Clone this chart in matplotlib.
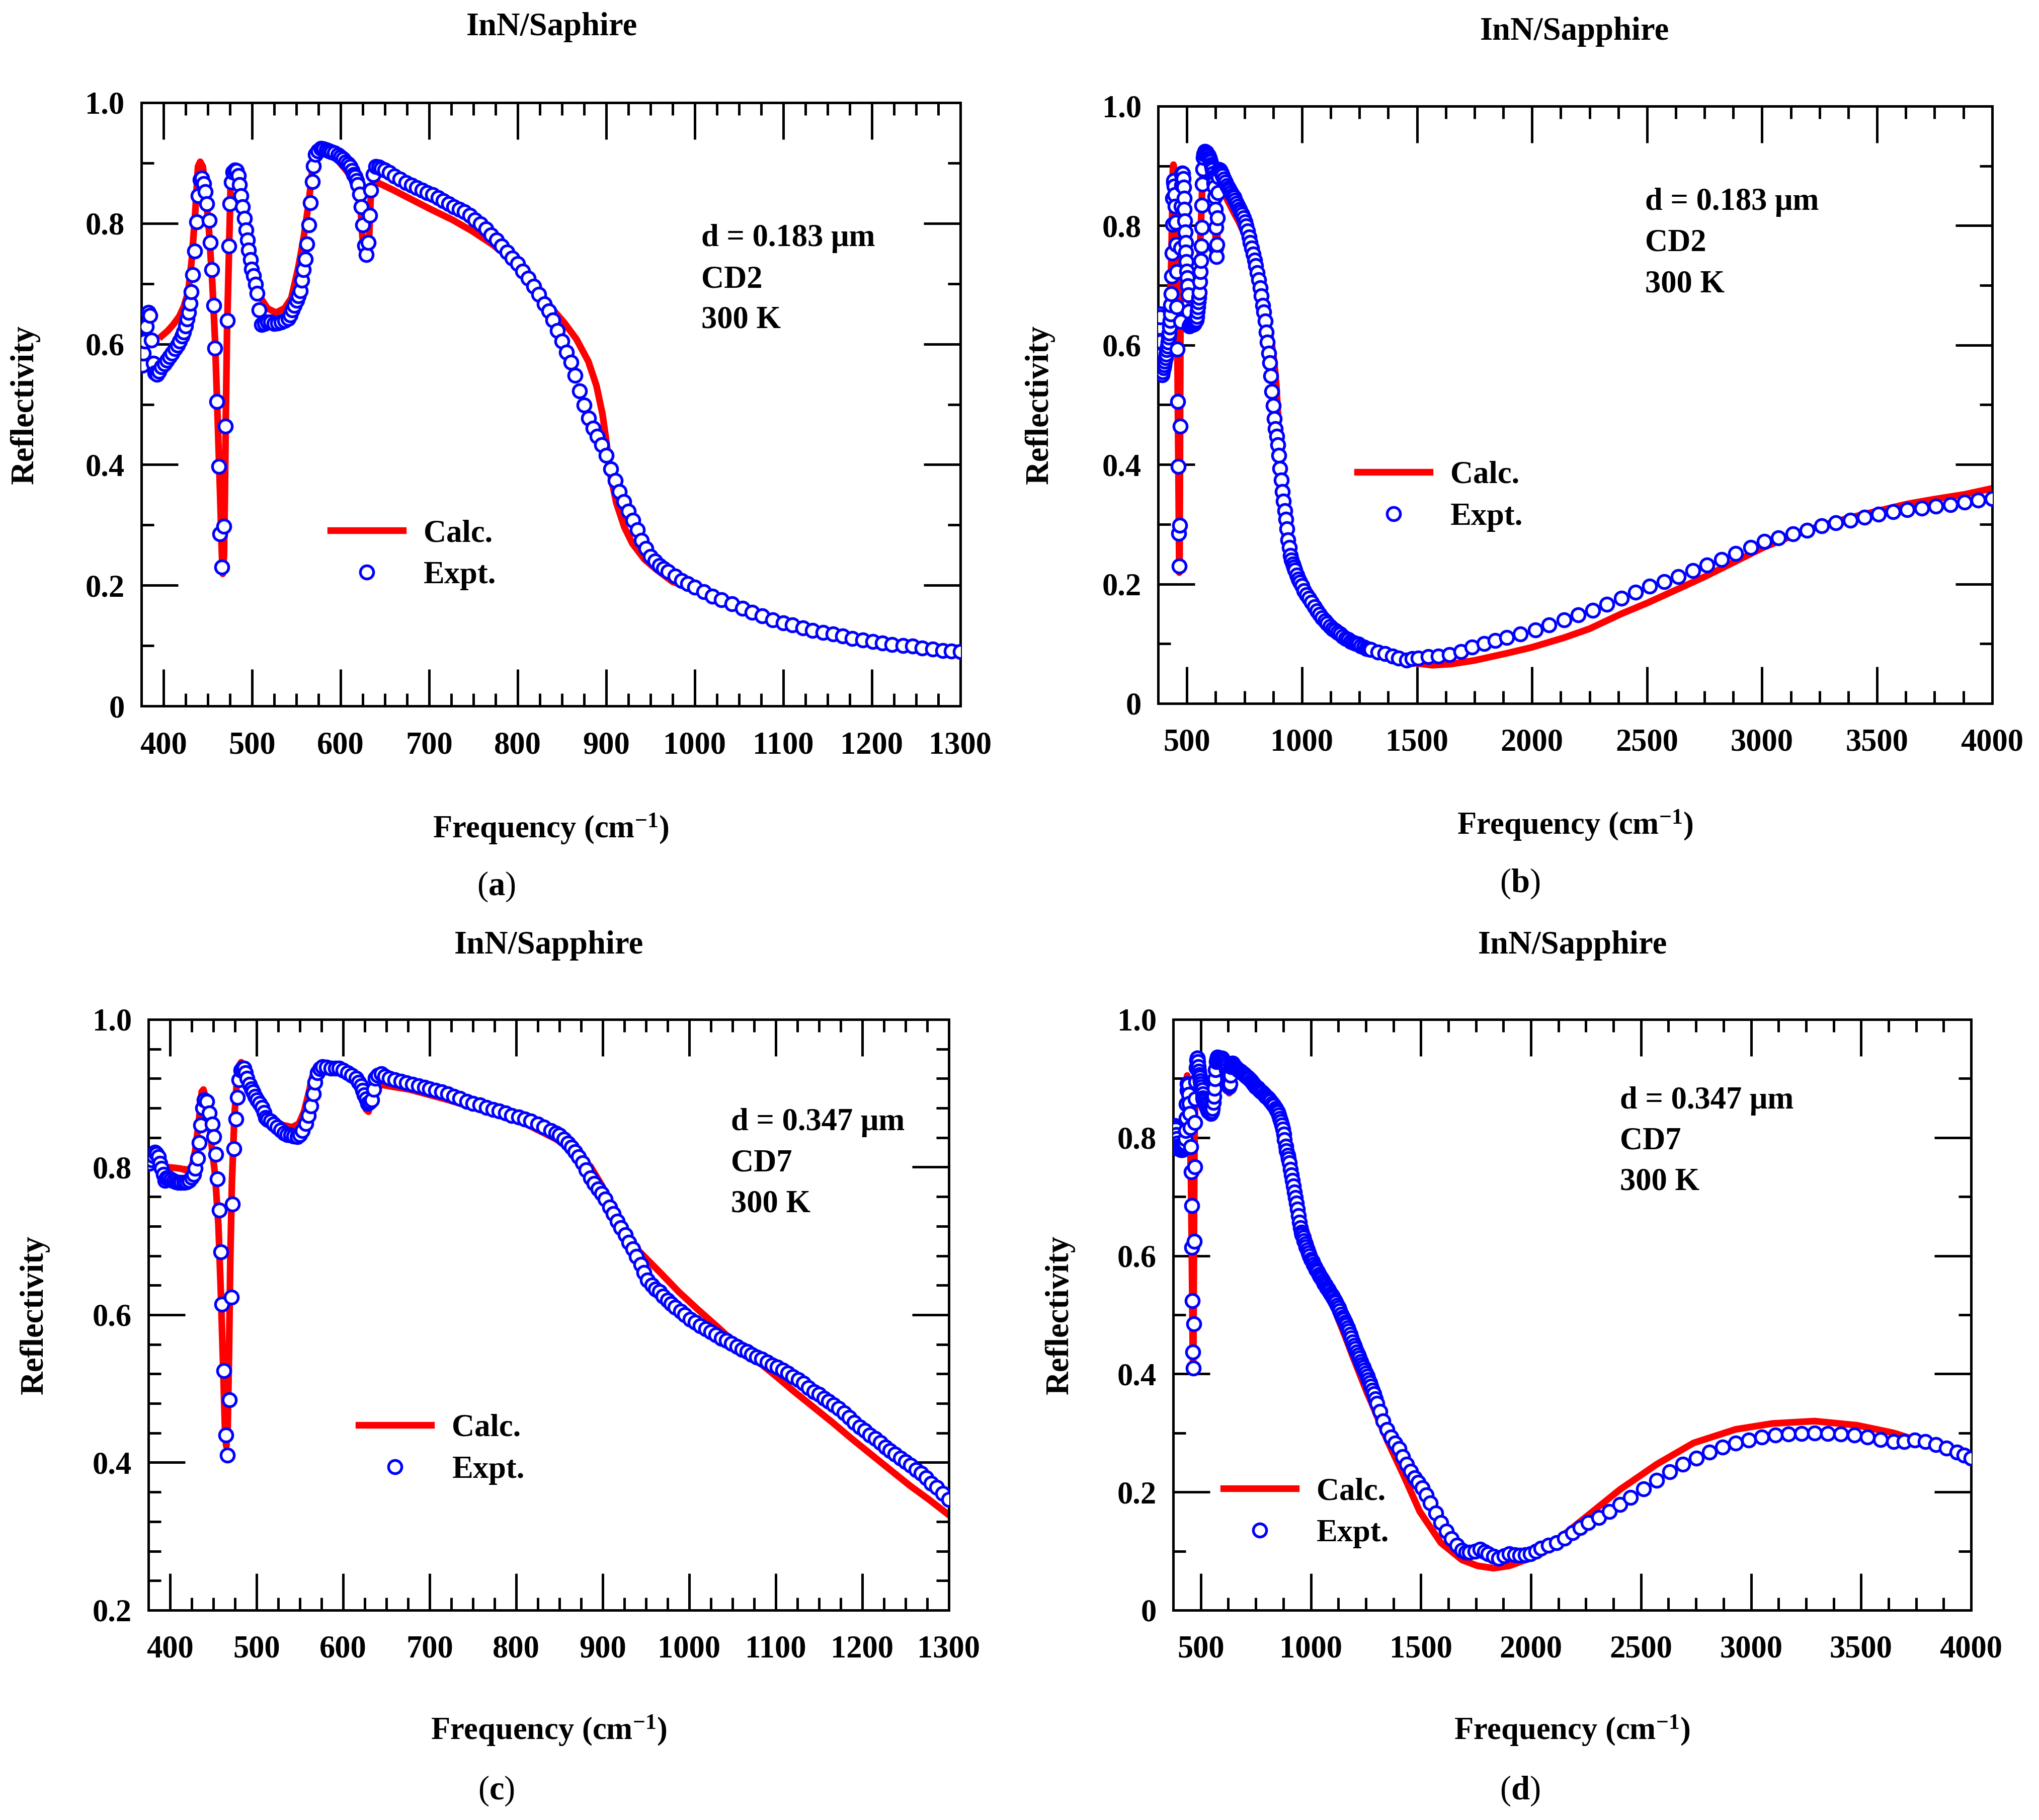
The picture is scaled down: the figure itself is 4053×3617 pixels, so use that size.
import matplotlib
matplotlib.use("Agg")
import matplotlib.pyplot as plt
from matplotlib.ticker import MultipleLocator, FuncFormatter

plt.rcParams["font.family"] = ["Liberation Serif", "DejaVu Serif"]
plt.rcParams["font.weight"] = "bold"
plt.rcParams["mathtext.fontset"] = "custom"
plt.rcParams["mathtext.rm"] = "Liberation Serif:bold"
plt.rcParams["mathtext.bf"] = "Liberation Serif:bold"
plt.rcParams["mathtext.it"] = "Liberation Serif:bold:italic"

# ---- data: (frequency cm-1, reflectivity) ----
cd2_expt = [
    (376, 0.565), (377.5, 0.585), (379, 0.605), (381, 0.629), (383, 0.652), (384.5, 0.647),
    (386.5, 0.606), (388.5, 0.568), (390.5, 0.552), (392.5, 0.550), (395, 0.555), (398, 0.562),
    (401, 0.567), (404, 0.573), (407, 0.579), (410, 0.585), (413, 0.592), (416, 0.598),
    (418.5, 0.605), (421, 0.613), (423, 0.620), (425, 0.630), (427, 0.641), (428.5, 0.652),
    (430, 0.667), (431.5, 0.686), (433, 0.715), (435.5, 0.754), (437.5, 0.802), (439, 0.846),
    (441.5, 0.872), (443.5, 0.875), (445.5, 0.866), (447.5, 0.852), (449, 0.832), (451.5, 0.805),
    (452.8, 0.768), (454.8, 0.723), (456.7, 0.664), (458.3, 0.593), (460.2, 0.505), (462.5, 0.397),
    (463.7, 0.285), (466.2, 0.230), (468.5, 0.298), (469.9, 0.464), (472.2, 0.639), (473.8, 0.762),
    (475.1, 0.832), (476.7, 0.868), (478.3, 0.885), (480.5, 0.888), (482.5, 0.887), (484.5, 0.879),
    (485.8, 0.864), (487.4, 0.846), (489.3, 0.827), (491.3, 0.808), (493.2, 0.789), (495.1, 0.772),
    (496.1, 0.756), (498.1, 0.740), (499.6, 0.724), (501.9, 0.713), (503.9, 0.699), (505.8, 0.684),
    (507.8, 0.656), (510.7, 0.632), (514, 0.634), (517.5, 0.636), (521, 0.636), (525, 0.634),
    (529, 0.635), (533, 0.636), (537, 0.639), (540.8, 0.642), (543, 0.648), (545.6, 0.656),
    (548, 0.664), (550.5, 0.672), (552.5, 0.680), (554.4, 0.688), (556.3, 0.706), (558.3, 0.723),
    (560.2, 0.741), (562.1, 0.766), (564.1, 0.797), (566, 0.834), (568, 0.869), (569.5, 0.895),
    (571.8, 0.914), (574.5, 0.920), (577.7, 0.924), (581, 0.923), (584, 0.922), (587, 0.920),
    (590, 0.918), (593, 0.917), (597, 0.913), (600, 0.910), (603, 0.907), (606, 0.902),
    (608.5, 0.898), (610.7, 0.894), (613, 0.887), (615, 0.881), (616.5, 0.877), (618, 0.871),
    (619.4, 0.864), (621.4, 0.848), (623.3, 0.827), (625.2, 0.797), (627.2, 0.763), (629.1, 0.748),
    (631.1, 0.768), (633, 0.813), (634.4, 0.855), (636.9, 0.881), (639.8, 0.894), (643, 0.893),
    (646, 0.891), (650, 0.888), (655, 0.884), (661, 0.878), (667, 0.873), (674, 0.867),
    (680, 0.863), (686, 0.859), (692, 0.855), (698, 0.851), (704, 0.847), (710, 0.842),
    (716, 0.837), (722, 0.832), (728, 0.827), (734, 0.823), (740, 0.819), (746, 0.813),
    (752, 0.806), (758, 0.799), (764, 0.791), (770, 0.781), (776, 0.772), (782, 0.762),
    (788, 0.752), (794, 0.742), (800, 0.733), (806, 0.721), (812, 0.709), (818, 0.696),
    (824, 0.682), (830, 0.666), (835, 0.655), (840, 0.640), (845, 0.622), (850, 0.605),
    (855, 0.586), (860, 0.570), (865, 0.548), (870, 0.522), (875, 0.499), (880, 0.477),
    (885, 0.460), (890, 0.447), (895, 0.433), (900, 0.415), (905, 0.393), (910, 0.374),
    (915, 0.355), (920, 0.339), (925, 0.323), (930, 0.308), (935, 0.292), (940, 0.274),
    (945, 0.261), (950, 0.248), (955, 0.240), (960, 0.233), (965, 0.228), (970, 0.223),
    (978, 0.215), (985, 0.208), (992, 0.203), (1000, 0.197), (1010, 0.189), (1020, 0.182),
    (1030, 0.176), (1042, 0.169), (1054, 0.162), (1065, 0.155), (1076, 0.149), (1088, 0.143),
    (1100, 0.138), (1110, 0.134), (1122, 0.129), (1133, 0.125), (1145, 0.122), (1156, 0.119),
    (1167, 0.116), (1178, 0.112), (1190, 0.109), (1201, 0.107), (1212, 0.104), (1223, 0.102),
    (1235, 0.100), (1246, 0.099), (1257, 0.096), (1269, 0.094), (1280, 0.092), (1290, 0.091),
    (1300, 0.090), (1330, 0.086), (1360, 0.083), (1393, 0.079), (1420, 0.076), (1455, 0.072),
    (1480, 0.075), (1505, 0.076), (1550, 0.078), (1592, 0.079), (1640, 0.082), (1692, 0.087),
    (1740, 0.094), (1791, 0.100), (1840, 0.105), (1891, 0.110), (1950, 0.116), (2015, 0.123),
    (2075, 0.131), (2139, 0.140), (2200, 0.148), (2264, 0.156), (2325, 0.166), (2388, 0.176),
    (2450, 0.186), (2512, 0.196), (2575, 0.204), (2637, 0.212), (2700, 0.222), (2761, 0.232),
    (2825, 0.241), (2886, 0.251), (2950, 0.261), (3010, 0.271), (3070, 0.277), (3134, 0.284),
    (3195, 0.290), (3259, 0.297), (3320, 0.302), (3383, 0.307), (3445, 0.312), (3507, 0.317),
    (3570, 0.321), (3632, 0.324), (3695, 0.327), (3756, 0.330), (3820, 0.333), (3881, 0.337),
    (3940, 0.340), (4000, 0.343),
]

cd2_calc = [
    (398, 0.613), (405, 0.622), (411, 0.632), (418, 0.646), (423, 0.662), (428, 0.686),
    (432, 0.740), (436, 0.820), (439, 0.894), (441.5, 0.902), (444.5, 0.894), (447.5, 0.854),
    (451.5, 0.787), (455.3, 0.699), (458.3, 0.605), (461, 0.485), (464, 0.350), (466, 0.250),
    (467, 0.219), (468.4, 0.250), (469.4, 0.350), (470.5, 0.485), (471.8, 0.619), (473.8, 0.740),
    (475.7, 0.854), (477.7, 0.887), (479.6, 0.884), (482, 0.875), (486, 0.850), (490, 0.815),
    (494, 0.780), (498, 0.745), (502, 0.715), (506, 0.690), (510, 0.676), (517.5, 0.659),
    (527, 0.652), (536.7, 0.659), (544.4, 0.676), (552.2, 0.726), (558, 0.773), (564.1, 0.834),
    (568, 0.887), (571.8, 0.911), (577.7, 0.921), (593.2, 0.911), (606.8, 0.887), (618.4, 0.864),
    (622.3, 0.834), (624.2, 0.787), (626.2, 0.753), (629.1, 0.746), (632, 0.766), (634, 0.840),
    (636.9, 0.870), (642.6, 0.867), (658.4, 0.856), (681, 0.839), (703.6, 0.822), (726.2, 0.806),
    (748.8, 0.787), (771.4, 0.765), (794, 0.739), (812.1, 0.708), (825.7, 0.685), (839.2, 0.658),
    (852.8, 0.635), (866.4, 0.608), (879.9, 0.571), (889, 0.531), (895.8, 0.484), (900.3, 0.437),
    (904.8, 0.383), (911.6, 0.336), (920.6, 0.296), (929.7, 0.269), (943.2, 0.243), (956.8, 0.226),
    (974.9, 0.206), (1000, 0.193), (1050, 0.163), (1100, 0.137), (1150, 0.120), (1200, 0.106),
    (1250, 0.098), (1300, 0.088), (1350, 0.081), (1400, 0.075), (1450, 0.070), (1500, 0.067),
    (1567, 0.064), (1650, 0.066), (1750, 0.072), (1891, 0.084), (2000, 0.094), (2139, 0.110),
    (2250, 0.125), (2388, 0.150), (2500, 0.168), (2637, 0.192), (2750, 0.212), (2886, 0.238),
    (3000, 0.260), (3134, 0.281), (3250, 0.297), (3383, 0.311), (3500, 0.322), (3632, 0.334),
    (3750, 0.342), (3881, 0.350), (4000, 0.360),
]

cd7_expt = [
    (376, 0.805), (378.5, 0.810), (380.5, 0.815), (382.6, 0.820), (384.5, 0.818), (386.4, 0.814),
    (388.3, 0.805), (390.3, 0.798), (392.2, 0.790), (394.2, 0.782), (396, 0.785), (398, 0.785),
    (401, 0.783), (404, 0.781), (407, 0.780), (410, 0.779), (413, 0.779), (416, 0.779),
    (419, 0.780), (422, 0.782), (425, 0.786), (427.1, 0.790), (429, 0.798), (431.9, 0.812),
    (433.5, 0.833), (435.2, 0.857), (437.8, 0.880), (439.7, 0.891), (442.6, 0.889), (445.5, 0.873),
    (448.8, 0.858), (450.3, 0.841), (452.7, 0.817), (454.6, 0.784), (456.7, 0.742), (458.5, 0.685),
    (460, 0.614), (462, 0.524), (464.5, 0.437), (466.2, 0.410), (468.3, 0.485), (470.7, 0.624),
    (472, 0.750), (474, 0.825), (476.1, 0.865), (477.6, 0.894), (479.4, 0.918), (481.7, 0.931),
    (483.5, 0.934), (485.2, 0.934), (487, 0.928), (489.1, 0.920), (492, 0.912), (494, 0.906),
    (495.8, 0.902), (498, 0.896), (500.7, 0.891), (503.5, 0.886), (506.5, 0.881), (508.5, 0.874),
    (510.4, 0.867), (513, 0.864), (516.2, 0.862), (520, 0.858), (523.9, 0.854), (528, 0.850),
    (531.7, 0.846), (535.5, 0.844), (539.4, 0.843), (543, 0.842), (547.1, 0.841), (550, 0.844),
    (553, 0.849), (556.8, 0.859), (559.7, 0.870), (562.6, 0.883), (565.5, 0.899), (567.5, 0.915),
    (570.4, 0.928), (573, 0.933), (576.2, 0.936), (581, 0.935), (585.9, 0.934), (591, 0.934),
    (595.5, 0.934), (600, 0.931), (605.2, 0.928), (610, 0.924), (614.9, 0.920), (618, 0.915),
    (620.7, 0.910), (622.6, 0.904), (624.6, 0.898), (626.5, 0.892), (628.5, 0.886), (630.9, 0.888),
    (633.3, 0.891), (635.2, 0.905), (637.2, 0.920), (640, 0.924), (643.9, 0.926), (648, 0.923),
    (653.6, 0.920), (660, 0.918), (667, 0.916), (673, 0.914), (680, 0.912), (687, 0.910),
    (694, 0.908), (700, 0.906), (707, 0.904), (714, 0.902), (721, 0.899), (728, 0.896),
    (735, 0.893), (743, 0.889), (750, 0.886), (758, 0.884), (765.8, 0.881), (773, 0.878),
    (780, 0.876), (788, 0.873), (795, 0.870), (803, 0.868), (810, 0.865), (817, 0.862),
    (825, 0.858), (832, 0.854), (840, 0.849), (846, 0.846), (850, 0.843), (855, 0.838),
    (860, 0.832), (864, 0.827), (868, 0.821), (872, 0.814), (877, 0.806), (881, 0.796),
    (886, 0.785), (890, 0.778), (895, 0.770), (899, 0.764), (903, 0.757), (908, 0.746),
    (912, 0.737), (917, 0.727), (921, 0.718), (926, 0.708), (930, 0.698), (935, 0.689),
    (939, 0.679), (944, 0.668), (948, 0.657), (952, 0.647), (957, 0.640), (961, 0.635),
    (966, 0.631), (970, 0.625), (975, 0.620), (979, 0.615), (984, 0.610), (990, 0.605),
    (995, 0.600), (1001, 0.594), (1007, 0.590), (1013, 0.585), (1019, 0.581), (1025, 0.577),
    (1031, 0.573), (1037, 0.568), (1043, 0.565), (1049, 0.561), (1055, 0.557), (1061, 0.553),
    (1067, 0.550), (1072, 0.546), (1078, 0.543), (1084, 0.540), (1090, 0.536), (1096, 0.532),
    (1102, 0.529), (1108, 0.525), (1114, 0.521), (1120, 0.516), (1126, 0.512), (1132, 0.507),
    (1138, 0.501), (1144, 0.496), (1150, 0.492), (1156, 0.487), (1161, 0.483), (1167, 0.478),
    (1173, 0.473), (1179, 0.467), (1185, 0.461), (1191, 0.454), (1197, 0.448), (1203, 0.443),
    (1209, 0.437), (1215, 0.432), (1221, 0.427), (1227, 0.421), (1232, 0.416), (1238, 0.411),
    (1244, 0.406), (1250, 0.401), (1256, 0.396), (1262, 0.390), (1268, 0.385), (1274, 0.379),
    (1280, 0.372), (1286, 0.366), (1293, 0.358), (1300, 0.350), (1314, 0.336), (1328, 0.320),
    (1346, 0.306), (1364, 0.293), (1382, 0.283), (1400, 0.273), (1418, 0.260), (1435, 0.247),
    (1453, 0.235), (1471, 0.224), (1489, 0.216), (1507, 0.207), (1525, 0.195), (1543, 0.181),
    (1567, 0.164), (1591, 0.148), (1615, 0.134), (1639, 0.121), (1663, 0.110), (1687, 0.101),
    (1705, 0.098), (1722, 0.098), (1746, 0.100), (1770, 0.103), (1790, 0.099), (1806, 0.095),
    (1830, 0.091), (1854, 0.088), (1878, 0.092), (1902, 0.095), (1926, 0.094), (1950, 0.093),
    (1974, 0.094), (1998, 0.095), (2022, 0.100), (2045, 0.105), (2081, 0.110), (2117, 0.114),
    (2153, 0.122), (2189, 0.131), (2225, 0.140), (2261, 0.148), (2308, 0.157), (2356, 0.167),
    (2404, 0.179), (2452, 0.191), (2512, 0.205), (2572, 0.220), (2631, 0.234), (2691, 0.247),
    (2751, 0.257), (2811, 0.267), (2870, 0.276), (2930, 0.283), (2990, 0.288), (3050, 0.293),
    (3110, 0.296), (3170, 0.298), (3230, 0.299), (3289, 0.300), (3349, 0.299), (3409, 0.298),
    (3469, 0.296), (3529, 0.293), (3589, 0.289), (3648, 0.285), (3696, 0.285), (3744, 0.288),
    (3792, 0.285), (3840, 0.280), (3888, 0.274), (3935, 0.267), (3968, 0.262), (4000, 0.257),
]

cd7_calc = [
    (396, 0.800), (405, 0.799), (412, 0.798), (418, 0.796), (425, 0.799), (429, 0.822),
    (433, 0.859), (436.6, 0.902), (438.6, 0.905), (441.5, 0.891), (445.3, 0.859), (448.2, 0.828),
    (452, 0.790), (455.9, 0.721), (458.8, 0.626), (461.7, 0.515), (463.7, 0.435), (465, 0.422),
    (466.6, 0.446), (468.2, 0.552), (469.6, 0.674), (471.5, 0.780), (474.4, 0.870), (478.3, 0.934),
    (482.2, 0.942), (487, 0.931), (494.8, 0.907), (506.5, 0.881), (518, 0.865), (529.7, 0.857),
    (541.3, 0.854), (549, 0.859), (554.8, 0.875), (560.6, 0.902), (564.5, 0.923), (570.3, 0.934),
    (584, 0.936), (603.3, 0.931), (615, 0.918), (622.6, 0.891), (626.5, 0.878), (629.4, 0.875),
    (632.3, 0.897), (636.2, 0.915), (641.3, 0.912), (676.9, 0.905), (721.3, 0.891), (765.8, 0.875),
    (810.2, 0.859), (845.8, 0.838), (868, 0.820), (885.8, 0.801), (899.1, 0.775), (916.9, 0.732),
    (934.7, 0.695), (948, 0.679), (965.8, 0.658), (988, 0.631), (1010.2, 0.607), (1032.4, 0.584),
    (1054.7, 0.560), (1076.9, 0.539), (1099.1, 0.518), (1121.3, 0.496), (1143.6, 0.475),
    (1165.8, 0.454), (1188, 0.432), (1210.2, 0.411), (1232.4, 0.390), (1254.7, 0.369),
    (1276.9, 0.350), (1300, 0.329), (1350, 0.285), (1423, 0.227), (1495, 0.167), (1591, 0.114),
    (1687, 0.085), (1758, 0.075), (1830, 0.071), (1902, 0.075), (1998, 0.088), (2117, 0.118),
    (2261, 0.161), (2404, 0.204), (2572, 0.247), (2739, 0.283), (2930, 0.306), (3098, 0.316),
    (3289, 0.320), (3481, 0.313), (3648, 0.300), (3792, 0.283), (4000, 0.257),
]

titles = ["InN/Saphire", "InN/Sapphire", "InN/Sapphire", "InN/Sapphire"]
panel_letters = ["a", "b", "c", "d"]
notes = [
    ["d = 0.183 \u03bcm", "CD2", "300 K"],
    ["d = 0.183 \u03bcm", "CD2", "300 K"],
    ["d = 0.347 \u03bcm", "CD7", "300 K"],
    ["d = 0.347 \u03bcm", "CD7", "300 K"],
]

FS = 15

fig = plt.figure(figsize=(4053 / 300, 3617 / 300), dpi=300)

# axes rectangles (figure fraction)
rects = [
    [0.0693, 0.6121, 0.4017, 0.3315],
    [0.5680, 0.6135, 0.4090, 0.3282],
    [0.0728, 0.1153, 0.3925, 0.3246],
    [0.5754, 0.1153, 0.3913, 0.3246],
]
sets = [
    (cd2_calc, cd2_expt, (375, 1300), (0, 1.0), 100, 25, 0.1),
    (cd2_calc, cd2_expt, (375, 4000), (0, 1.0), 500, 125, 0.1),
    (cd7_calc, cd7_expt, (375, 1300), (0.2, 1.0), 100, 25, 0.04),
    (cd7_calc, cd7_expt, (375, 4000), (0, 1.0), 500, 125, 0.1),
]
note_pos = [(0.684, [0.775, 0.706, 0.639]),
            (0.584, [0.839, 0.770, 0.701]),
            (0.728, [0.825, 0.756, 0.687]),
            (0.560, [0.862, 0.793, 0.724])]
legend_pos = [(0.231, 0.2505), (0.239, 0.347), (0.263, 0.2725), (0.063, 0.1645)]
title_pos = [(0.2707, 0.9851), (0.7723, 0.9826), (0.2692, 0.4805), (0.7713, 0.4805)]
letter_pos = [(0.2433, 0.5129), (0.7454, 0.5145), (0.2433, 0.016), (0.7454, 0.016)]

yfmt = FuncFormatter(lambda v, p: "0" if abs(v) < 1e-9 else "%.1f" % v)

for i in range(4):
    calc, expt, xl, yl, xmaj, xmin, ymin = sets[i]
    ax = fig.add_axes(rects[i])
    cf, cr = zip(*calc)
    ef, er = zip(*expt)
    ax.plot(cf, cr, color="red", lw=3.2, label="Calc.", zorder=2)
    ax.plot(ef, er, ls="none", marker="o", ms=6.3, mfc="white", mec="blue",
            mew=1.3, label="Expt.", zorder=3)
    ax.set_xlim(*xl)
    ax.set_ylim(*yl)
    ax.xaxis.set_major_locator(MultipleLocator(xmaj))
    ax.xaxis.set_minor_locator(MultipleLocator(xmin))
    ax.yaxis.set_major_locator(MultipleLocator(0.2))
    ax.yaxis.set_minor_locator(MultipleLocator(ymin))
    ax.yaxis.set_major_formatter(yfmt)
    ax.tick_params(which="both", direction="in", top=True, right=True, width=1.2)
    ax.tick_params(which="major", length=17.5)
    ax.tick_params(which="minor", length=6)
    ax.tick_params(axis="x", which="major", pad=12, labelsize=FS)
    ax.tick_params(axis="y", which="major", pad=8, labelsize=FS)
    for s in ax.spines.values():
        s.set_linewidth(1.2)

    ax.set_xlabel(r"Frequency (cm$^{-1}$)", fontsize=FS, fontweight="bold", va="center")
    ax.xaxis.set_label_coords(0.5, -0.204)
    ax.set_ylabel("Reflectivity", fontsize=15.5, fontweight="bold", va="center")
    ax.yaxis.set_label_coords(-0.142, 0.5)

    nx, nys = note_pos[i]
    for txt, ny in zip(notes[i], nys):
        ax.text(nx, ny, txt, transform=ax.transAxes, fontsize=FS,
                fontweight="bold", ha="left", va="center")

    ax.legend(loc="center left", bbox_to_anchor=legend_pos[i], frameon=False,
              fontsize=FS, handlelength=2.3, handletextpad=0.66, labelspacing=0.4,
              borderpad=0, borderaxespad=0, numpoints=1)

    tx, ty = title_pos[i]
    fig.text(tx, ty, titles[i], fontsize=15.5, fontweight="bold", ha="center", va="center")
    lx, ly = letter_pos[i]
    fig.text(lx, ly, "($\\mathbf{%s}$)" % panel_letters[i], fontsize=16,
             fontweight="normal", ha="center", va="center")

fig.savefig("out.png", dpi=300)
